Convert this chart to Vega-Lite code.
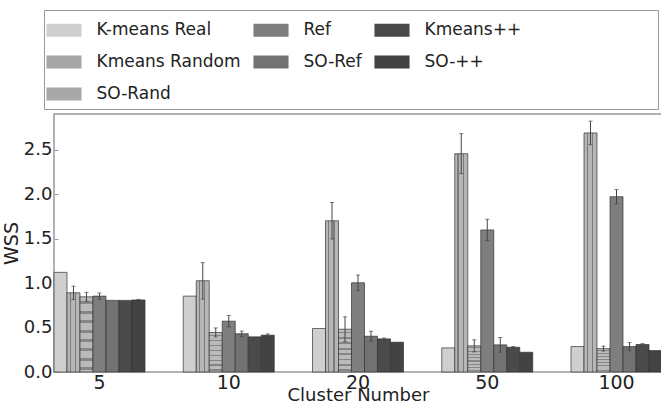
{
  "$schema": "https://vega.github.io/schema/vega-lite/v6.json",
  "width": 608,
  "height": 258,
  "autosize": {"type": "none"},
  "padding": {"left": 54, "top": 114, "right": 0, "bottom": 31},
  "background": "white",
  "config": {
    "font": "DejaVu Sans",
    "view": {"stroke": "#999", "strokeWidth": 1.5},
    "axis": {"labelColor": "#222", "titleColor": "#222", "titleFontWeight": "normal", "grid": false}
  },
  "data": {
    "values": [
      {"k": "5", "method": "K-means Real", "wss": 1.12, "lo": 1.12, "hi": 1.12},
      {"k": "5", "method": "Kmeans Random", "wss": 0.89, "lo": 0.815, "hi": 0.965},
      {"k": "5", "method": "SO-Rand", "wss": 0.845, "lo": 0.795, "hi": 0.895},
      {"k": "5", "method": "Ref", "wss": 0.853, "lo": 0.818, "hi": 0.888},
      {"k": "5", "method": "SO-Ref", "wss": 0.805, "lo": 0.805, "hi": 0.805},
      {"k": "5", "method": "Kmeans++", "wss": 0.805, "lo": 0.805, "hi": 0.805},
      {"k": "5", "method": "SO-++", "wss": 0.81, "lo": 0.805, "hi": 0.815},
      {"k": "10", "method": "K-means Real", "wss": 0.853, "lo": 0.853, "hi": 0.853},
      {"k": "10", "method": "Kmeans Random", "wss": 1.026, "lo": 0.82, "hi": 1.23},
      {"k": "10", "method": "SO-Rand", "wss": 0.444, "lo": 0.395, "hi": 0.495},
      {"k": "10", "method": "Ref", "wss": 0.571, "lo": 0.507, "hi": 0.635},
      {"k": "10", "method": "SO-Ref", "wss": 0.43, "lo": 0.4, "hi": 0.46},
      {"k": "10", "method": "Kmeans++", "wss": 0.395, "lo": 0.395, "hi": 0.395},
      {"k": "10", "method": "SO-++", "wss": 0.414, "lo": 0.4, "hi": 0.428},
      {"k": "20", "method": "K-means Real", "wss": 0.489, "lo": 0.489, "hi": 0.489},
      {"k": "20", "method": "Kmeans Random", "wss": 1.7, "lo": 1.495, "hi": 1.905},
      {"k": "20", "method": "SO-Rand", "wss": 0.481, "lo": 0.34, "hi": 0.62},
      {"k": "20", "method": "Ref", "wss": 1.003, "lo": 0.916, "hi": 1.09},
      {"k": "20", "method": "SO-Ref", "wss": 0.402, "lo": 0.346, "hi": 0.458},
      {"k": "20", "method": "Kmeans++", "wss": 0.372, "lo": 0.362, "hi": 0.382},
      {"k": "20", "method": "SO-++", "wss": 0.335, "lo": 0.335, "hi": 0.335},
      {"k": "50", "method": "K-means Real", "wss": 0.271, "lo": 0.271, "hi": 0.271},
      {"k": "50", "method": "Kmeans Random", "wss": 2.454, "lo": 2.23, "hi": 2.68},
      {"k": "50", "method": "SO-Rand", "wss": 0.294, "lo": 0.226, "hi": 0.362},
      {"k": "50", "method": "Ref", "wss": 1.597, "lo": 1.477, "hi": 1.717},
      {"k": "50", "method": "SO-Ref", "wss": 0.305, "lo": 0.222, "hi": 0.388},
      {"k": "50", "method": "Kmeans++", "wss": 0.278, "lo": 0.27, "hi": 0.286},
      {"k": "50", "method": "SO-++", "wss": 0.222, "lo": 0.222, "hi": 0.222},
      {"k": "100", "method": "K-means Real", "wss": 0.286, "lo": 0.286, "hi": 0.286},
      {"k": "100", "method": "Kmeans Random", "wss": 2.687, "lo": 2.555, "hi": 2.82},
      {"k": "100", "method": "SO-Rand", "wss": 0.263, "lo": 0.235, "hi": 0.291},
      {"k": "100", "method": "Ref", "wss": 1.97, "lo": 1.89, "hi": 2.05},
      {"k": "100", "method": "SO-Ref", "wss": 0.286, "lo": 0.241, "hi": 0.331},
      {"k": "100", "method": "Kmeans++", "wss": 0.309, "lo": 0.299, "hi": 0.319},
      {"k": "100", "method": "SO-++", "wss": 0.241, "lo": 0.241, "hi": 0.241}
    ]
  },
  "encoding": {
    "x": {
      "field": "k", "type": "nominal", "sort": ["5", "10", "20", "50", "100"],
      "scale": {"paddingInner": 0.296, "paddingOuter": 0},
      "axis": {"title": "Cluster Number", "labelAngle": 0, "labelFontSize": 19, "labelPadding": 1, "ticks": false, "tickSize": 0, "domain": false, "titleFontSize": 18, "titlePadding": -6}
    },
    "xOffset": {
      "field": "method", "type": "nominal",
      "scale": {"domain": ["K-means Real", "Kmeans Random", "SO-Rand", "Ref", "SO-Ref", "Kmeans++", "SO-++"]}
    }
  },
  "layer": [
    {
      "mark": {"type": "bar", "stroke": "#333", "strokeWidth": 0.7},
      "encoding": {
        "y": {
          "field": "wss", "type": "quantitative",
          "scale": {"domain": [0, 2.9], "nice": false},
          "axis": {"title": "WSS", "values": [0, 0.5, 1, 1.5, 2, 2.5], "format": ".1f", "labelFontSize": 18, "labelPadding": 6, "tickSize": -4, "tickColor": "#999", "domain": false, "titleFontSize": 19, "titlePadding": 2}
        },
        "fill": {
          "condition": [
            {"test": "datum.method === 'Kmeans Random'", "value": {"gradient": "linear", "x1": 0, "y1": 0, "x2": 1, "y2": 0, "stops": [
              {"offset": 0, "color": "#b6b6b6"}, {"offset": 0.2, "color": "#b6b6b6"}, {"offset": 0.2, "color": "#7c7c7c"}, {"offset": 0.3, "color": "#7c7c7c"}, {"offset": 0.3, "color": "#b6b6b6"},
              {"offset": 0.6, "color": "#b6b6b6"}, {"offset": 0.6, "color": "#7c7c7c"}, {"offset": 0.7, "color": "#7c7c7c"}, {"offset": 0.7, "color": "#b6b6b6"}, {"offset": 1, "color": "#b6b6b6"}]}},
            {"test": "datum.method === 'SO-Rand'", "value": {"gradient": "linear", "x1": 0, "y1": 0, "x2": 0, "y2": 1, "stops": [
              {"offset": 0, "color": "#bababa"}, {"offset": 0.06, "color": "#bababa"}, {"offset": 0.06, "color": "#868686"}, {"offset": 0.1, "color": "#868686"}, {"offset": 0.1, "color": "#bababa"},
              {"offset": 0.185, "color": "#bababa"}, {"offset": 0.185, "color": "#868686"}, {"offset": 0.225, "color": "#868686"}, {"offset": 0.225, "color": "#bababa"},
              {"offset": 0.31, "color": "#bababa"}, {"offset": 0.31, "color": "#868686"}, {"offset": 0.35, "color": "#868686"}, {"offset": 0.35, "color": "#bababa"},
              {"offset": 0.435, "color": "#bababa"}, {"offset": 0.435, "color": "#868686"}, {"offset": 0.475, "color": "#868686"}, {"offset": 0.475, "color": "#bababa"},
              {"offset": 0.56, "color": "#bababa"}, {"offset": 0.56, "color": "#868686"}, {"offset": 0.6, "color": "#868686"}, {"offset": 0.6, "color": "#bababa"},
              {"offset": 0.685, "color": "#bababa"}, {"offset": 0.685, "color": "#868686"}, {"offset": 0.725, "color": "#868686"}, {"offset": 0.725, "color": "#bababa"},
              {"offset": 0.81, "color": "#bababa"}, {"offset": 0.81, "color": "#868686"}, {"offset": 0.85, "color": "#868686"}, {"offset": 0.85, "color": "#bababa"},
              {"offset": 0.935, "color": "#bababa"}, {"offset": 0.935, "color": "#868686"}, {"offset": 0.975, "color": "#868686"}, {"offset": 0.975, "color": "#bababa"}, {"offset": 1, "color": "#bababa"}]}}
          ],
          "field": "method", "type": "nominal",
          "sort": ["K-means Real", "Ref", "Kmeans++", "Kmeans Random", "SO-Ref", "SO-++", "SO-Rand"],
          "scale": {
            "domain": ["K-means Real", "Ref", "Kmeans++", "Kmeans Random", "SO-Ref", "SO-++", "SO-Rand"],
            "range": ["#cfcfcf", "#7e7e7e", "#4a4a4a", "#a6a6a6", "#727272", "#434343", "#a8a8a8"]
          },
          "legend": {
            "orient": "none", "legendX": -10, "legendY": -104, "columns": 3, "direction": "horizontal",
            "title": "\u00a0", "titleOrient": "right", "titlePadding": 130,
            "symbolType": "M-1.35,-0.5H1.35V0.5H-1.35Z", "symbolSize": 676,
            "symbolOffset": 0, "symbolStrokeColor": "#333", "symbolStrokeWidth": 0.7,
            "labelFontSize": 17, "labelOffset": 19, "labelColor": "#222",
            "columnPadding": 10, "rowPadding": 10, "padding": 6.5,
            "strokeColor": "#999",
            "encode": {
              "symbols": {
                "update": {
                  "fill": [
                    {"test": "datum.value === 'Kmeans Random'", "value": {"gradient": "linear", "x1": 0, "y1": 0, "x2": 1, "y2": 0, "stops": [
                      {"offset": 0, "color": "#b6b6b6"}, {"offset": 0.08, "color": "#b6b6b6"}, {"offset": 0.08, "color": "#7c7c7c"}, {"offset": 0.12, "color": "#7c7c7c"}, {"offset": 0.12, "color": "#b6b6b6"},
                      {"offset": 0.24, "color": "#b6b6b6"}, {"offset": 0.24, "color": "#7c7c7c"}, {"offset": 0.28, "color": "#7c7c7c"}, {"offset": 0.28, "color": "#b6b6b6"},
                      {"offset": 0.4, "color": "#b6b6b6"}, {"offset": 0.4, "color": "#7c7c7c"}, {"offset": 0.44, "color": "#7c7c7c"}, {"offset": 0.44, "color": "#b6b6b6"},
                      {"offset": 0.56, "color": "#b6b6b6"}, {"offset": 0.56, "color": "#7c7c7c"}, {"offset": 0.6, "color": "#7c7c7c"}, {"offset": 0.6, "color": "#b6b6b6"},
                      {"offset": 0.72, "color": "#b6b6b6"}, {"offset": 0.72, "color": "#7c7c7c"}, {"offset": 0.76, "color": "#7c7c7c"}, {"offset": 0.76, "color": "#b6b6b6"},
                      {"offset": 0.88, "color": "#b6b6b6"}, {"offset": 0.88, "color": "#7c7c7c"}, {"offset": 0.92, "color": "#7c7c7c"}, {"offset": 0.92, "color": "#b6b6b6"}, {"offset": 1, "color": "#b6b6b6"}]}},
                    {"test": "datum.value === 'SO-Rand'", "value": {"gradient": "linear", "x1": 0, "y1": 0, "x2": 0, "y2": 1, "stops": [
                      {"offset": 0, "color": "#bababa"}, {"offset": 0.15, "color": "#bababa"}, {"offset": 0.15, "color": "#868686"}, {"offset": 0.25, "color": "#868686"}, {"offset": 0.25, "color": "#bababa"},
                      {"offset": 0.45, "color": "#bababa"}, {"offset": 0.45, "color": "#868686"}, {"offset": 0.55, "color": "#868686"}, {"offset": 0.55, "color": "#bababa"},
                      {"offset": 0.75, "color": "#bababa"}, {"offset": 0.75, "color": "#868686"}, {"offset": 0.85, "color": "#868686"}, {"offset": 0.85, "color": "#bababa"}, {"offset": 1, "color": "#bababa"}]}},
                    {"scale": "fill", "field": "value"}
                  ]
                }
              }
            }
          }
        }
      }
    },
    {
      "transform": [{"filter": "datum.hi > datum.lo"}],
      "mark": {"type": "rule", "color": "#444", "strokeWidth": 1},
      "encoding": {"y": {"field": "lo", "type": "quantitative"}, "y2": {"field": "hi"}}
    },
    {
      "transform": [{"filter": "datum.hi > datum.lo"}],
      "mark": {"type": "tick", "color": "#444", "thickness": 1, "size": 4},
      "encoding": {"y": {"field": "lo", "type": "quantitative"}}
    },
    {
      "transform": [{"filter": "datum.hi > datum.lo"}],
      "mark": {"type": "tick", "color": "#444", "thickness": 1, "size": 4},
      "encoding": {"y": {"field": "hi", "type": "quantitative"}}
    }
  ]
}
